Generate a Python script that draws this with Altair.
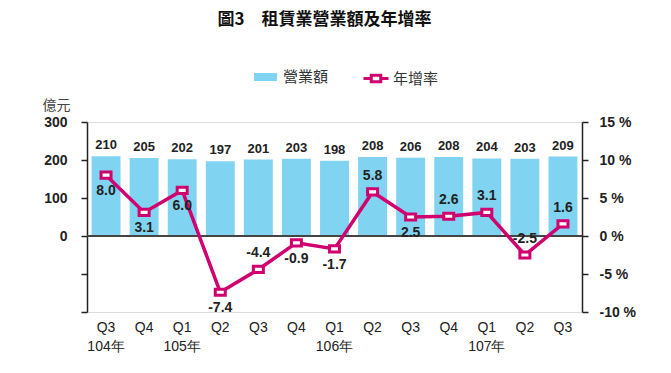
import json
import altair as alt
import pandas as pd

# ---- data ----
quarters = ["Q3", "Q4", "Q1", "Q2", "Q3", "Q4", "Q1", "Q2", "Q3", "Q4", "Q1", "Q2", "Q3"]
years = ["104年", "", "105年", "", "", "", "106年", "", "", "", "107年", "", ""]
amount = [210, 205, 202, 197, 201, 203, 198, 208, 206, 208, 204, 203, 209]
growth = [8.0, 3.1, 6.0, -7.4, -4.4, -0.9, -1.7, 5.8, 2.5, 2.6, 3.1, -2.5, 1.6]
amount_name = "營業額"
growth_name = "年增率"

# ---- style ----
BAR = "#80D4F1"
MAG = "#D0006F"
TXT = "#222222"
FONT = "Liberation Sans"
CJK = "Noto Sans CJK TC"
above_idx = [4, 7, 9, 10, 11, 12]  # growth labels drawn above their markers

df = pd.DataFrame({
    "idx": list(range(len(quarters))),
    "amount": amount,
    "growth": growth,
    "s1": amount_name,
    "s2": growth_name,
})
df["glabel"] = [f"{v:.1f}" for v in growth]
df["above"] = [i in above_idx for i in df["idx"]]

label_expr = (
    f"[{json.dumps(quarters, ensure_ascii=False)}[datum.value], "
    f"{json.dumps(years, ensure_ascii=False)}[datum.value]]"
)

x = alt.X(
    "idx:O",
    scale=alt.Scale(paddingInner=0.24, paddingOuter=0.12),
    axis=alt.Axis(
        title=None, labelExpr=label_expr, labelAngle=0, domain=False, ticks=False,
        labelPadding=8, labelFontSize=14, labelFont=FONT, labelColor=TXT,
        labelLineHeight=19, labelBaseline="top",
    ),
)

left_scale = alt.Scale(domain=[-200, 300], nice=False, zero=False)
left_axis = alt.Axis(
    values=[-200, -100, 0, 100, 200, 300],
    labelExpr="datum.value < 0 ? '' : datum.label", labelOverlap=False,
    title="億元", titleAngle=0, titleX=-45, titleY=-17, titleAlign="left",
    titleBaseline="middle", titleFont=CJK, titleFontSize=14, titleFontWeight="normal",
    titleColor="#444444",
    grid=False, tickSize=6, tickWidth=1.5, tickColor=TXT, domainColor=TXT, domainWidth=1.5,
    labelFont=FONT, labelFontSize=14, labelFontWeight="bold", labelColor=TXT, labelPadding=14,
)
y_left = alt.Y("amount:Q", scale=left_scale, axis=left_axis)

bars = alt.Chart(df).mark_bar().encode(
    x=x,
    y=y_left,
    fill=alt.Fill(
        "s1:N",
        scale=alt.Scale(domain=[amount_name], range=[BAR]),
        legend=alt.Legend(
            title=None, orient="none", legendX=167, legendY=-56.5, padding=0,
            symbolType="M-1,-0.35L1,-0.35L1,0.35L-1,0.35Z", symbolSize=529,
            symbolStrokeWidth=0, labelFont=CJK, labelFontSize=15, labelColor="#333333",
            labelOffset=6,
        ),
    ),
)

zero_rule = alt.Chart(df).mark_rule(color="#444444", strokeWidth=1.2).encode(
    y=alt.YDatum(0, type="quantitative", scale=left_scale, axis=left_axis)
)

bar_text = alt.Chart(df).mark_text(
    font=FONT, fontSize=13, fontWeight="bold", color=TXT, dy=-11, baseline="middle"
).encode(
    x=x,
    y=y_left,
    text=alt.Text("amount:Q"),
)

left = alt.layer(bars, zero_rule, bar_text)

y_right = alt.Y(
    "growth:Q",
    scale=alt.Scale(domain=[-10, 15], nice=False, zero=False),
    axis=alt.Axis(
        orient="right", values=[-10, -5, 0, 5, 10, 15], labelExpr="datum.value + ' %'",
        labelOverlap=False,
        title=None, grid=False, tickSize=6, tickWidth=1.5, tickColor=TXT, domainColor=TXT,
        domainWidth=1.5, labelFont=FONT, labelFontSize=14, labelFontWeight="bold",
        labelColor=TXT, labelPadding=11,
    ),
)

SQ = "M-1,-0.62L1,-0.62L1,0.62L-1,0.62Z"
LEG_PATH = "M-1,0L-0.38,0M0.38,0L1,0M-0.38,-0.26L0.38,-0.26L0.38,0.26L-0.38,0.26Z"

line = alt.Chart(df).mark_line(strokeWidth=3.5).encode(
    x=x,
    y=y_right,
    stroke=alt.Stroke(
        "s2:N",
        scale=alt.Scale(domain=[growth_name], range=[MAG]),
        legend=alt.Legend(
            title=None, orient="none", legendX=275, legendY=-57.5, padding=0,
            symbolType=LEG_PATH, symbolSize=625, symbolStrokeWidth=3,
            symbolFillColor="white", labelFont=CJK, labelFontSize=15,
            labelColor="#333333", labelOffset=3,
        ),
    ),
)

points = alt.Chart(df).mark_point(
    shape=SQ, filled=True, fill="white", stroke=MAG, strokeWidth=3, size=100, opacity=1
).encode(x=x, y=y_right)

txt_common = dict(font=FONT, fontSize=14, fontWeight="bold", color=TXT, baseline="middle")
g_above = alt.Chart(df).transform_filter("datum.above").mark_text(dy=-16, **txt_common).encode(
    x=x, y=y_right, text="glabel:N"
)
g_below = alt.Chart(df).transform_filter("!datum.above").mark_text(dy=16, **txt_common).encode(
    x=x, y=y_right, text="glabel:N"
)

right = alt.layer(line, points, g_above, g_below)

chart = (
    alt.layer(left, right)
    .resolve_scale(y="independent")
    .properties(
        width=495,
        height=190,
        autosize=alt.AutoSizeParams(type="none"),
        padding={"left": 79, "top": 114, "right": 73, "bottom": 45},
        title=alt.Title(
            text="圖3　租賃業營業額及年增率", font=CJK, fontSize=17, fontWeight="bold",
            color="#111111", anchor="middle", frame="group", offset=36, dx=-10,
        ),
    )
    .configure_view(strokeWidth=0)
    .configure(background="white")
)

chart.save("out.html", embed_options={"renderer": "svg", "actions": False})
